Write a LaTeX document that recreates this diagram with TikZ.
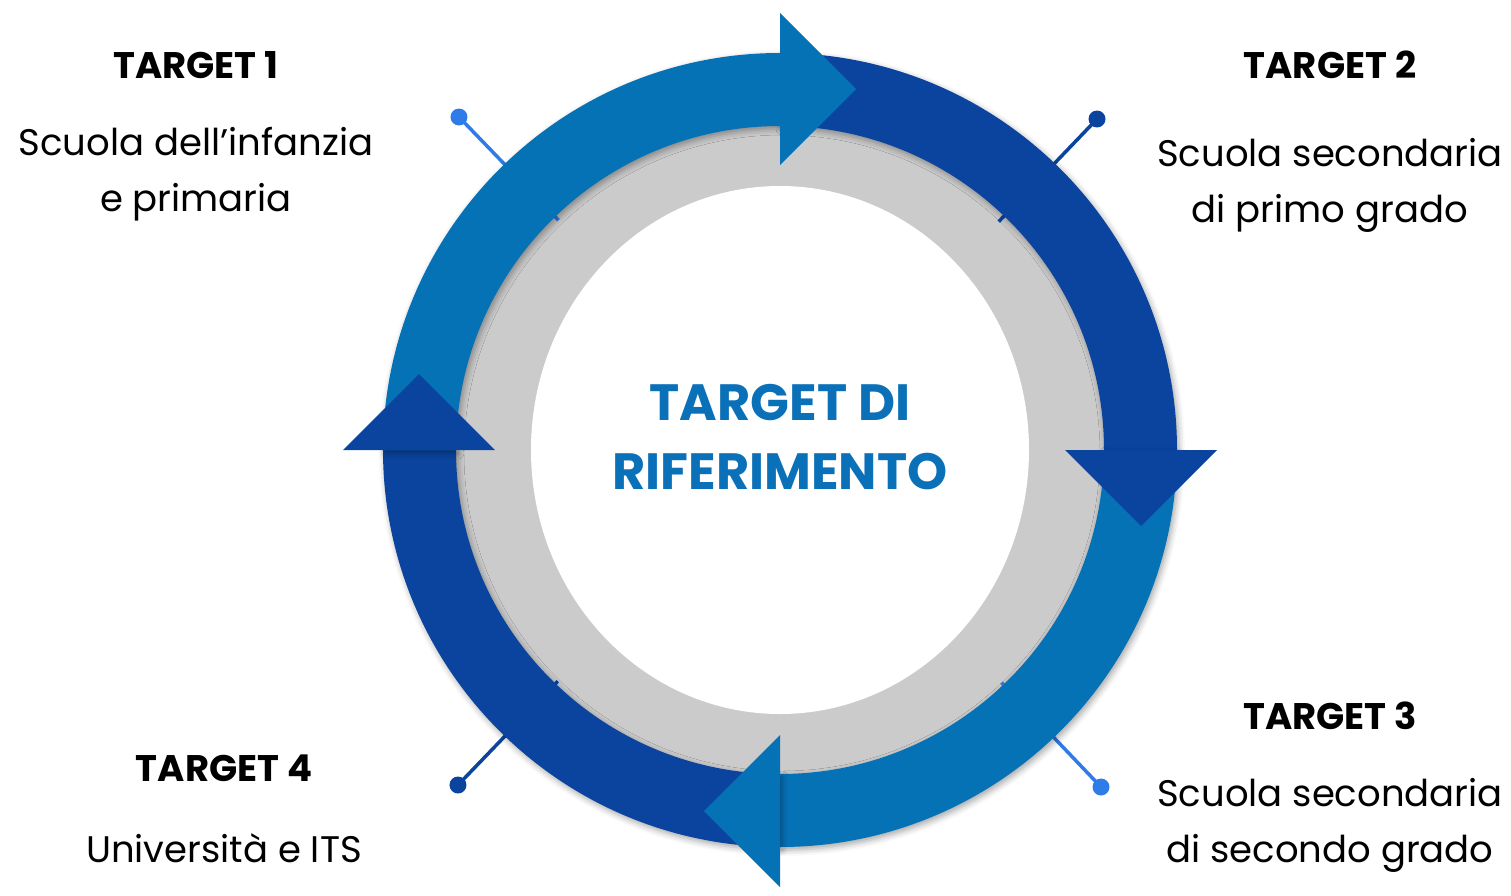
\documentclass[tikz,border=0pt]{standalone}
\usepackage{fontspec}
\setmainfont{Poppins}
\usetikzlibrary{calc}
\usetikzlibrary{shadows.blur}

\definecolor{lightblu}{HTML}{0672B6}
\definecolor{darkblu}{HTML}{0A449E}
\definecolor{ringgray}{HTML}{CBCBCB}
\definecolor{pinblu}{HTML}{2F7BE8}
\definecolor{titleblu}{HTML}{0A70B8}

\begin{document}
\begin{tikzpicture}[x=1pt,y=1pt]
  \useasboundingbox (-780,450) rectangle (731,-445);
  \newcommand{\rin}{324pt}
  \newcommand{\rout}{397pt}
  \newcommand{\rmid}{361pt}
  \tikzstyle{band}=[blur shadow={shadow xshift=2pt,shadow yshift=-3pt,shadow blur radius=6pt,shadow opacity=35}]
  \tikzstyle{pindot}=[circle,inner sep=0pt,minimum size=17pt]
  \tikzstyle{pinline}=[line width=3.5pt]
  \tikzstyle{tgt}=[font=\fontsize{37}{42}\selectfont\bfseries,align=center]
  \tikzstyle{desc}=[font=\fontsize{37}{56}\selectfont,align=center]

%% gray ring and white centre
  \fill[ringgray] (0,0) circle (335pt);
  \fill[white] (0,0) ellipse (249pt and 264pt);
  \node[font=\fontsize{51}{69}\selectfont\bfseries,text=titleblu,align=center] (centre) at (0,13) {TARGET DI\\RIFERIMENTO};

%% pins under the ring
  \foreach \n/\x/\y/\col in {1/-321/333/pinblu, 2/317/331/darkblu, 3/321/-337/pinblu, 4/-322/-335/darkblu} {
    \node[pindot,fill=\col] (dot\n) at (\x,\y) {};
    \coordinate (foot\n) at ($(0,0)!0.69!(dot\n)$);
    \draw[pinline,\col] (dot\n.center) -- (foot\n);
  };

%% arrow bodies, clockwise
  \foreach \a/\b/\col in {90/0/darkblu, 0/-90/lightblu, -90/-180/darkblu, 180/90/lightblu}
    \fill[band,\col] (\a:\rout) arc[start angle=\a,end angle=\b,radius=\rout]
      -- (\b:\rin) arc[start angle=\b,end angle=\a,radius=\rin] -- cycle;

%% arrow heads
  \foreach \a/\col in {90/lightblu, 0/darkblu, -90/lightblu, 180/darkblu}
    \fill[\col] (\a:285pt) -- ($(\a:\rmid)+(\a-90:76pt)$) -- (\a:437pt) -- cycle;

%% labels
  \node[tgt]  (target1) at (-584,385)  {TARGET 1};
  \node[desc] (desc1)   at (-584,276)  {Scuola dell’infanzia\\e primaria};
  \node[tgt]  (target2) at (550,385)   {TARGET 2};
  \node[desc] (desc2)   at (550,265)   {Scuola secondaria\\di primo grado};
  \node[tgt]  (target3) at (550,-266)  {TARGET 3};
  \node[desc] (desc3)   at (550,-375)  {Scuola secondaria\\di secondo grado};
  \node[tgt]  (target4) at (-556,-318) {TARGET 4};
  \node[desc] (desc4)   at (-556,-398) {Università e ITS};
\end{tikzpicture}
\end{document}
